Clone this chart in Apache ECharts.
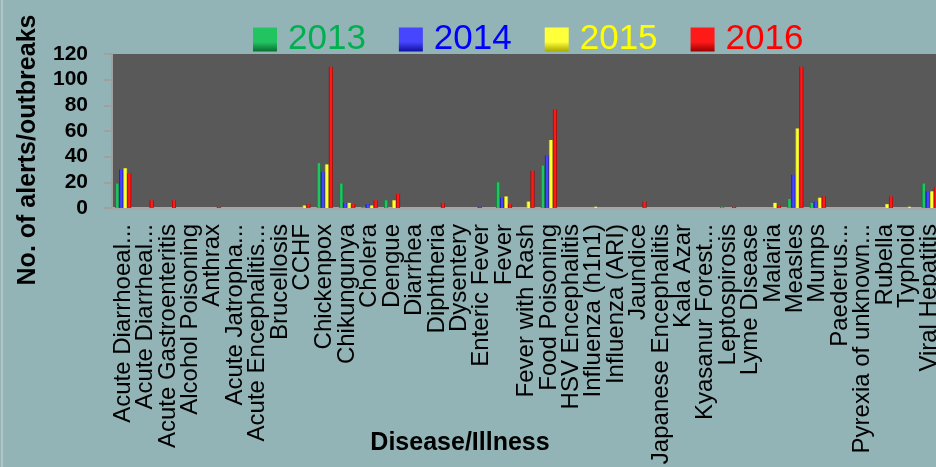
<!DOCTYPE html>
<html>
<head>
<meta charset="utf-8">
<script src="https://cdn.jsdelivr.net/npm/echarts@6/dist/echarts.min.js"></script>
<style>
html,body{margin:0;padding:0;background:#93B4B7;}
#chart{width:936px;height:467px;}
</style>
</head>
<body>
<div id="chart"></div>
<script>
const categories = ["Acute Diarrhoeal...","Acute Diarrheal...","Acute Gastroenteritis","Alcohol Poisoning","Anthrax","Acute Jatropha...","Acute Encephalitis...","Brucellosis","CCHF","Chickenpox","Chikungunya","Cholera","Dengue","Diarrhea","Diphtheria","Dysentery","Enteric Fever","Fever","Fever with Rash","Food Poisoning","HSV Encephalitis","Influenza (h1n1)","Influenza (ARI)","Jaundice","Japanese Encephalitis","Kala Azar","Kyasanur Forest...","Leptospirosis","Lyme Disease","Malaria","Measles","Mumps","Paederus...","Pyrexia of unknown...","Rubella","Typhoid","Viral Hepatitis"];
const years = ["2013","2014","2015","2016"];
const d2013 = [19,0,0,0,0,0,0,0,0,35,19,1,6,0,0,0,0,20,0,33,0,0,0,0,0,0,0,1,0,0,7,4,0,0,0,0,19];
const d2014 = [30,0,0,0,0,0,0,0,0,28,4,3,0,0,0,0,1,8,0,41,0,0,0,0,0,0,0,0,0,0,26,5,0,0,0,0,13];
const d2015 = [31,0,0,0,0,0,0,0,2,34,4,2,6,0,0,0,0,9,5,53,0,1,0,0,0,0,0,0,0,4,62,8,0,0,3,1,13];
const d2016 = [27,6,6,0,1,0,0,0,3,110,3,6,11,0,4,0,0,3,29,77,0,0,0,5,0,0,0,1,0,2,110,9,0,0,9,0,16];
const yTicks = [0,20,40,60,80,100,120];

const seriesData = [d2013,d2014,d2015,d2016];
const textColors = ["#00B050","#0000FF","#FFFF00","#FF0000"];
const shades = [
  ["#0A6E30","#22C462"],
  ["#0F0FA0","#4646FF"],
  ["#A8A800","#FFFF3A"],
  ["#9A0000","#FF1A1A"]
];
function barGrad(s){
  return new echarts.graphic.LinearGradient(0,0,1,0,[
    {offset:0,color:s[0]},{offset:0.35,color:s[1]},{offset:0.7,color:s[1]},{offset:1,color:s[0]}
  ]);
}
function iconGrad(s){
  return new echarts.graphic.LinearGradient(0,0,0,1,[
    {offset:0,color:s[1]},{offset:0.6,color:s[1]},{offset:1,color:s[0]}
  ]);
}
const FONT = '"Liberation Sans", Arial, sans-serif';

const chart = echarts.init(document.getElementById('chart'), null, {renderer:'canvas'});
const option = {
  backgroundColor:'#93B4B7',
  animation:false,
  legend:{
    left:253, top:22, padding:0,
    itemWidth:24, itemHeight:24, itemGap:33,
    icon:'rect',
    data: years.map((y,i)=>({name:y, itemStyle:{color:iconGrad(shades[i])}, textStyle:{color:textColors[i]}})),
    textStyle:{fontFamily:FONT, fontSize:35, lineHeight:35, padding:[0,0,0,6]}
  },
  grid:{left:112, top:54, width:829, bottom:259, show:true, backgroundColor:'#595959', borderWidth:0, containLabel:false, outerBoundsMode:'none'},
  xAxis:{
    type:'category', data:categories,
    axisLine:{show:true, lineStyle:{color:'#A6A6A6', width:3}},
    axisTick:{show:false},
    axisLabel:{interval:0, rotate:90, margin:16, color:'#000', fontFamily:FONT, fontSize:24, hideOverlap:false}
  },
  yAxis:{
    type:'value', min:yTicks[0], max:yTicks[yTicks.length-1], interval:20,
    axisLine:{show:true, lineStyle:{color:'#A0A0A0', width:2}},
    axisTick:{show:true, length:8, lineStyle:{color:'#A0A0A0', width:2}},
    splitLine:{show:false},
    axisLabel:{margin:24, color:'#000', fontWeight:'bold', fontFamily:FONT, fontSize:21, showMinLabel:true, showMaxLabel:true}
  },
  series: years.map((y,i)=>({
    name:y, type:'bar', data:seriesData[i],
    barWidth:4, barGap:'0%',
    itemStyle:{color:barGrad(shades[i])}
  })),
  graphic:[
    {type:'rect', left:1, top:0, shape:{width:2, height:467}, style:{fill:'#B4C4C5'}},
    {type:'text', x:28, y:150, rotation:Math.PI/2,
     style:{text:'No. of alerts/outbreaks', fill:'#000', font:'bold 25px "Liberation Sans", sans-serif', textAlign:'center', textVerticalAlign:'middle'}},
    {type:'text', x:460, y:443,
     style:{text:'Disease/Illness', fill:'#000', font:'bold 25px "Liberation Sans", sans-serif', textAlign:'center', textVerticalAlign:'middle'}}
  ]
};
chart.setOption(option);
</script>
</body>
</html>
